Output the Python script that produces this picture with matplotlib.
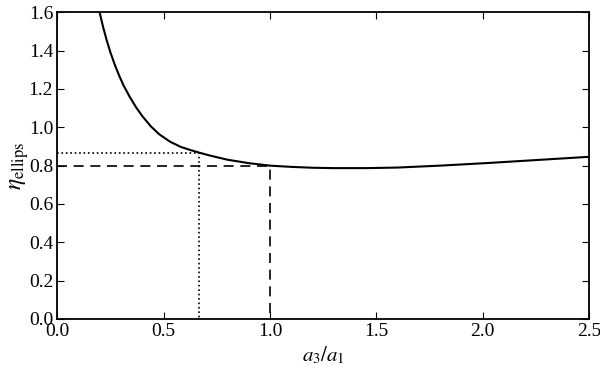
import matplotlib
matplotlib.use("Agg")
import matplotlib.pyplot as plt

# curve
ratio = [0.199, 0.215, 0.232, 0.25, 0.27, 0.29, 0.31, 0.34, 0.37, 0.40, 0.44, 0.48,
         0.53, 0.58, 0.63, 0.667, 0.72, 0.80, 0.90, 1.00, 1.10, 1.20, 1.30, 1.45,
         1.60, 1.80, 2.03, 2.25, 2.50]
eta = [1.600, 1.525, 1.455, 1.390, 1.328, 1.272, 1.222, 1.160, 1.105, 1.058, 1.005, 0.963,
       0.925, 0.898, 0.880, 0.868, 0.852, 0.831, 0.813, 0.800, 0.7935, 0.789, 0.787, 0.787,
       0.790, 0.800, 0.814, 0.829, 0.846]

# marker lines
dot_x, dot_y = 2.0 / 3.0, 0.868
dash_x, dash_y = 1.0, 0.800

plt.rcParams['font.family'] = ['Liberation Serif', 'DejaVu Serif']
plt.rcParams['mathtext.fontset'] = 'stix'
plt.rcParams['font.size'] = 14

fig = plt.figure(figsize=(6, 3.68), dpi=100)
ax = fig.add_axes([0.0955, 0.1332, 0.886, 0.8334])

ax.plot(ratio, eta, color='black', lw=1.5)
ax.plot([0, dot_x, dot_x], [dot_y, dot_y, 0], color='black', lw=1.2, ls=':')
ax.plot([0, dash_x, dash_x], [dash_y, dash_y, 0], color='black', lw=1.2, ls=(0, (6, 4)))

ax.set_xlim(0, 2.5)
ax.set_ylim(0, 1.6)
ax.set_xticks([0.0, 0.5, 1.0, 1.5, 2.0, 2.5])
ax.set_yticks([0.0, 0.2, 0.4, 0.6, 0.8, 1.0, 1.2, 1.4, 1.6])
ax.tick_params(direction='in', top=True, right=True, length=5, width=0.8, labelsize=14, pad=3)
for s in ax.spines.values():
    s.set_linewidth(1.3)

ax.set_xlabel(r'$a_3/a_1$', fontsize=15, labelpad=3)
ax.set_ylabel(r'$\eta_{\rm ellips}$', fontsize=17)
ax.yaxis.set_label_coords(-0.05, 0.5)

fig.savefig('out.png', dpi=100)
